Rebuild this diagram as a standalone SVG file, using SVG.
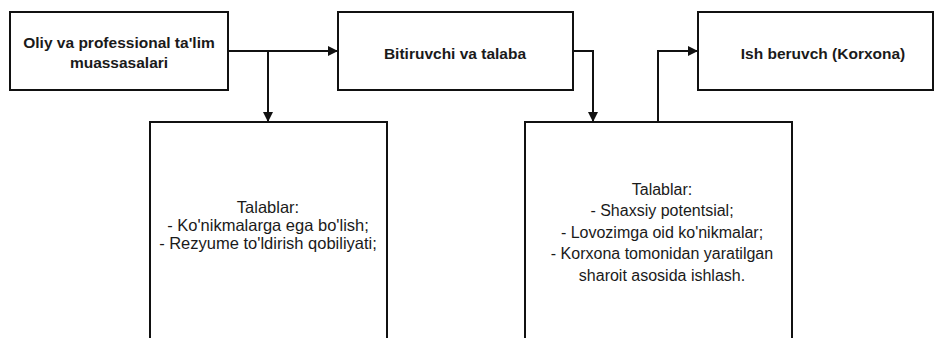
<svg xmlns="http://www.w3.org/2000/svg" width="936" height="338" viewBox="0 0 936 338">
<defs>
<style>
.box{fill:#fff;stroke:#111;stroke-width:2}
.t{font-family:"Liberation Sans",Arial,sans-serif;fill:#1a1a1a;text-anchor:middle}
.b{font-weight:bold;font-size:15.5px}
.r3{font-size:16.5px}
.r4{font-size:16px}
.c{fill:none;stroke:#111;stroke-width:2}
</style>
<marker id="ah" markerWidth="10" markerHeight="10" refX="9" refY="5" orient="auto" markerUnits="userSpaceOnUse">
<path d="M0,0 L10,5 L0,10 Z" fill="#111"/>
</marker>
</defs>
<rect width="936" height="338" fill="#fff"/>
<g id="n1"><rect class="box" x="10" y="12" width="218" height="78"/>
<text class="t b" x="119" y="48">Oliy va professional ta'lim</text>
<text class="t b" x="119" y="68">muassasalari</text></g>
<g id="n2"><rect class="box" x="338" y="12" width="235" height="78"/>
<text class="t b" x="455" y="59">Bitiruvchi va talaba</text></g>
<g id="n3"><rect class="box" x="698" y="12" width="235" height="78"/>
<text class="t b" x="823" y="59">Ish beruvch (Korxona)</text></g>
<g id="n4"><rect class="box" x="150" y="122" width="237" height="230"/>
<text class="t r3" x="268" y="213">Talablar:</text>
<text class="t r3" x="268" y="231">- Ko'nikmalarga ega bo'lish;</text>
<text class="t r3" x="268" y="249">- Rezyume to'ldirish qobiliyati;</text></g>
<g id="n5"><rect class="box" x="525" y="122" width="267" height="230"/>
<text class="t r4" x="662" y="195">Talablar:</text>
<text class="t r4" x="662" y="216">- Shaxsiy potentsial;</text>
<text class="t r4" x="662" y="238">- Lovozimga oid ko'nikmalar;</text>
<text class="t r4" x="662" y="259">- Korxona tomonidan yaratilgan</text>
<text class="t r4" x="662" y="281">sharoit asosida ishlash.</text></g>
<g id="connectors">
<path class="c" d="M228,51 H337" marker-end="url(#ah)"/>
<path class="c" d="M268,51 V121" marker-end="url(#ah)"/>
<path class="c" d="M573,51 H593 V121" marker-end="url(#ah)"/>
<path class="c" d="M658,122 V51 H697" marker-end="url(#ah)"/>
</g>
</svg>
